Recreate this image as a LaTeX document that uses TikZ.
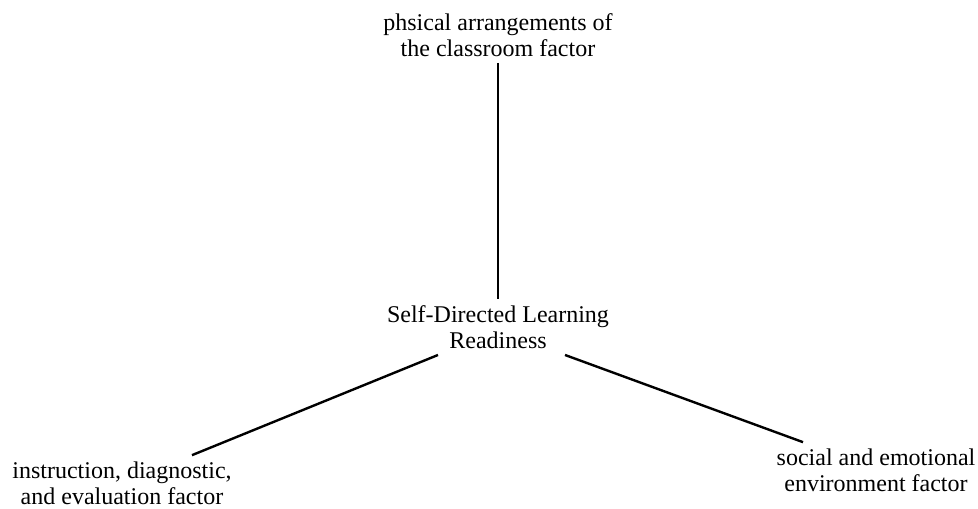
\documentclass[tikz,border=0pt]{standalone}
\usepackage{fontspec}
\setmainfont{Liberation Serif}
\usepackage{tikz}

\begin{document}
\begin{tikzpicture}[x=0.5pt,y=-0.5pt,main node/.style={align=center,inner sep=3pt,font=\fontsize{12}{13}\selectfont}]
    \useasboundingbox (0,0) rectangle (978,508);
    \node[main node] (srl) at (498,327) {Self-Directed Learning\\Readiness};
    \node[main node] (phys) at (498,35) {phsical arrangements of\\the classroom factor};
    \node[main node] (instr) at (122,483) {instruction, diagnostic,\\and evaluation factor};
    \node[main node] (soc) at (876,470) {social and emotional\\environment factor};

    \path[draw,line width=1.2pt]
    (phys.south) edge (srl.north)
    ([xshift=-30pt]srl.south) edge ([xshift=35pt]instr.north)
    ([xshift=33.5pt]srl.south) edge ([xshift=-36.5pt]soc.north);
  \end{tikzpicture}
\end{document}
